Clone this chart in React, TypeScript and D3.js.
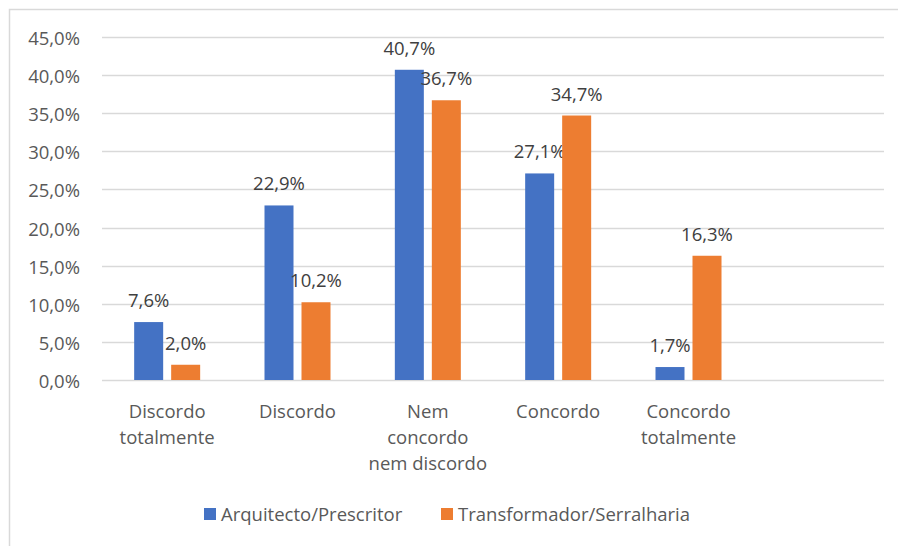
import React from "react";
import * as d3 from "d3";

const categories: string[][] = [
  ["Discordo", "totalmente"],
  ["Discordo"],
  ["Nem", "concordo", "nem discordo"],
  ["Concordo"],
  ["Concordo", "totalmente"],
  [],
];
const seriesNames = ["Arquitecto/Prescritor", "Transformador/Serralharia"];
const arquitecto = [7.6, 22.9, 40.7, 27.1, 1.7];
const transformador = [2.0, 10.2, 36.7, 34.7, 16.3];
const yTicks = [0, 5, 10, 15, 20, 25, 30, 35, 40, 45];
const colors = ["#4472C4", "#ED7D31"];

const W = 898;
const H = 546;
const FONT = "'Open Sans', 'Liberation Sans', sans-serif";

export default function App() {
  const x = d3
    .scaleBand<number>()
    .domain(d3.range(categories.length))
    .range([102, 884])
    .paddingInner(0)
    .paddingOuter(0);
  const y = d3.scaleLinear().domain([0, 45]).range([380, 37]);
  const fmt = (v: number) => v.toFixed(1).replace(".", ",") + "%";
  const barW = 29;
  const offset = 18.5;
  const series = [arquitecto, transformador];

  return (
    <svg
      width={W}
      height={H}
      style={{ position: "absolute", left: 0, top: 0, background: "#fff" }}
      fontFamily={FONT}
    >
      <rect x={9.5} y={9.5} width={900} height={545} fill="#fff" stroke="#d9d9d9" strokeWidth={1.5} />
      {yTicks.map((t) => (
        <g key={t}>
          <line x1={102} x2={884} y1={Math.round(y(t)) + 0.5} y2={Math.round(y(t)) + 0.5} stroke="#d9d9d9" strokeWidth={1.3} />
          <text x={80} y={y(t) + 8} textAnchor="end" fontSize={18.5} fill="#595959">
            {fmt(t)}
          </text>
        </g>
      ))}
      {series.map((s, si) =>
        s.map((v, i) => {
          const cx = (x(i) as number) + x.bandwidth() / 2 + (si === 0 ? -offset : offset);
          return (
            <g key={`${si}-${i}`}>
              <rect x={cx - barW / 2} y={y(v)} width={barW} height={y(0) - y(v)} fill={colors[si]} />
              <text x={cx} y={y(v) - 15} textAnchor="middle" fontSize={18.5} fill="#404040">
                {fmt(v)}
              </text>
            </g>
          );
        })
      )}
      {categories.map((lines, i) => (
        <text key={i} textAnchor="middle" fontSize={18.5} fill="#595959">
          {lines.map((l, li) => (
            <tspan key={li} x={(x(i) as number) + x.bandwidth() / 2} y={418 + li * 26}>
              {l}
            </tspan>
          ))}
        </text>
      ))}
      <g>
        <rect x={204} y={508} width={12} height={12} fill={colors[0]} />
        <text x={221} y={521} fontSize={18.5} fill="#595959">{seriesNames[0]}</text>
        <rect x={441} y={508} width={12} height={12} fill={colors[1]} />
        <text x={458} y={521} fontSize={18.5} fill="#595959">{seriesNames[1]}</text>
      </g>
    </svg>
  );
}
